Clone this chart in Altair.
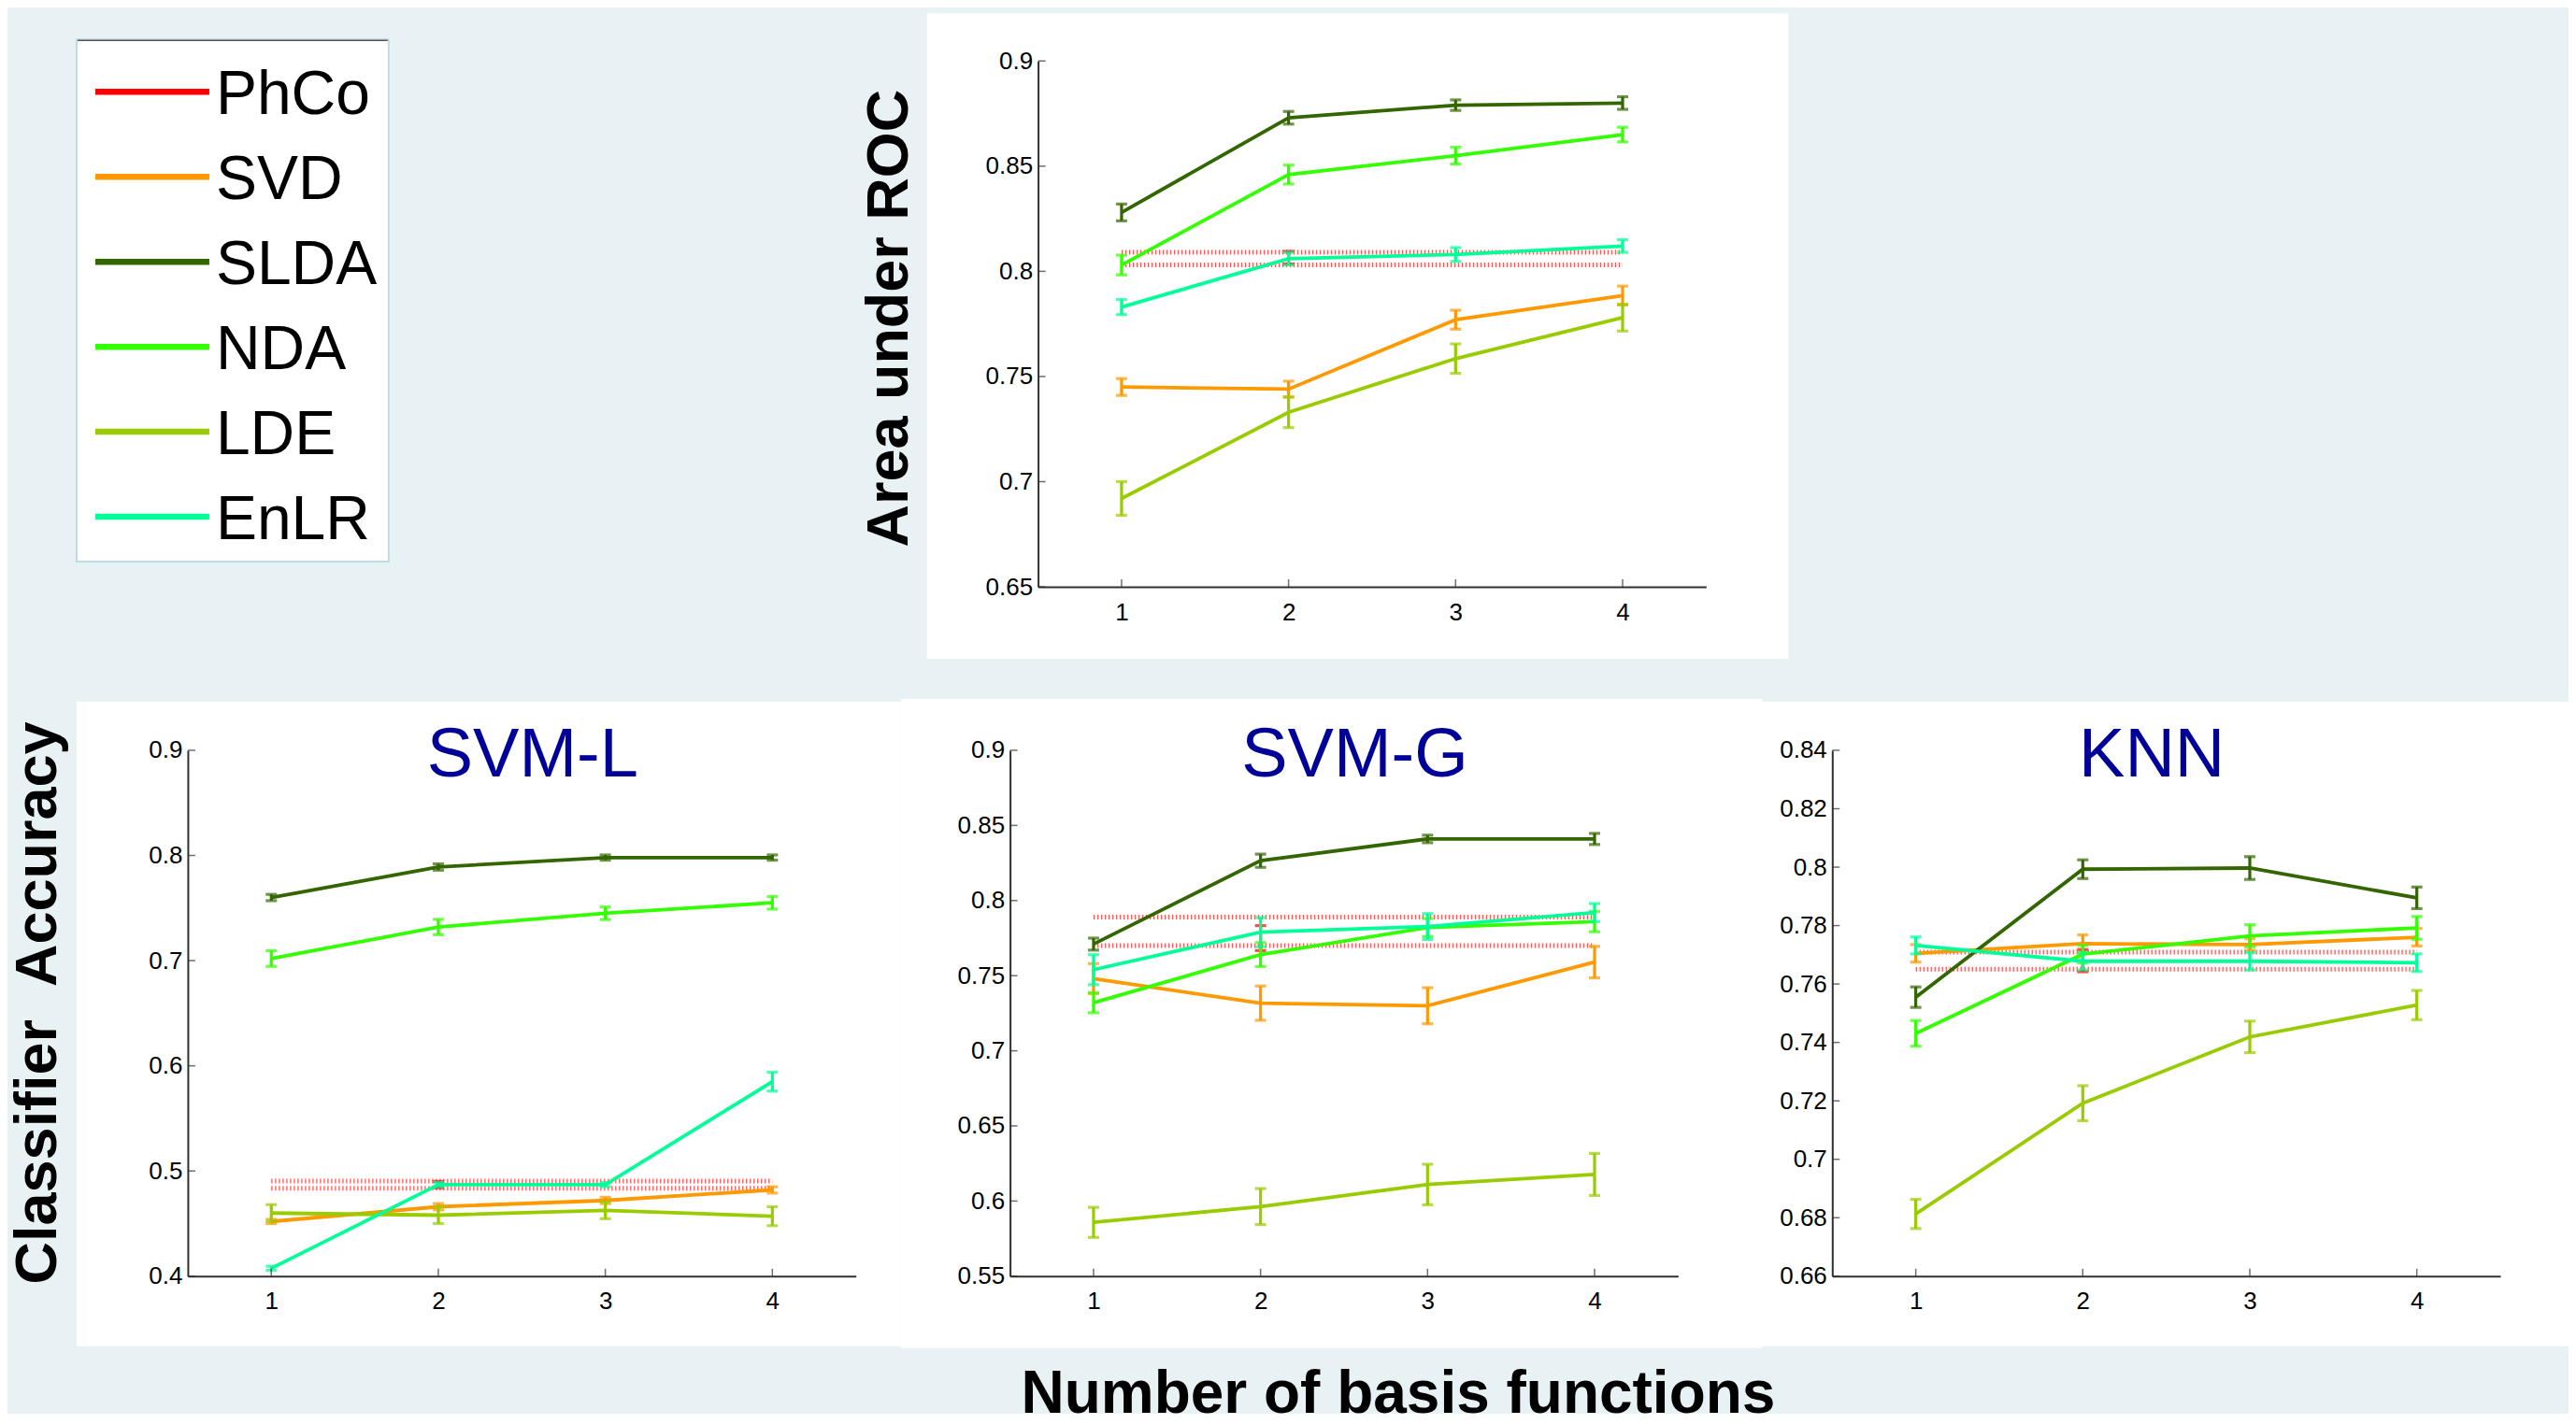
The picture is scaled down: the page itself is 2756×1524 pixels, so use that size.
import altair as alt
import pandas as pd

FONT = "Liberation Sans"
BG = "#e8f1f3"
AXIS_COLOR = "#303030"
TITLE_BLUE = "#000099"

METHODS = ["PhCo", "SVD", "SLDA", "NDA", "LDE", "EnLR"]
COLORS = ["#ff0000", "#ff9900", "#336600", "#33ff00", "#99cc00", "#00ff99"]
N_BASIS = [1, 2, 3, 4]

# ---------------- Area under ROC (top panel) ----------------
AUC_MEAN = {
    "SVD":  [0.745, 0.744, 0.777, 0.7885],
    "SLDA": [0.828, 0.873, 0.879, 0.880],
    "NDA":  [0.803, 0.846, 0.855, 0.865],
    "LDE":  [0.692, 0.733, 0.7585, 0.778],
    "EnLR": [0.783, 0.806, 0.808, 0.812],
}
AUC_ERR = {
    "SVD":  [0.004, 0.0038, 0.0045, 0.0045],
    "SLDA": [0.004, 0.003, 0.0025, 0.003],
    "NDA":  [0.0047, 0.0045, 0.004, 0.0035],
    "LDE":  [0.008, 0.0073, 0.007, 0.0064],
    "EnLR": [0.0036, 0.003, 0.0033, 0.003],
}
AUC_PHCO_BAND = [0.803, 0.809]
AUC_PHCO_BAR = [0.8065, 0.003]
AUC_TICKS = [0.65, 0.7, 0.75, 0.8, 0.85, 0.9]

# ---------------- SVM-L ----------------
SVML_MEAN = {
    "SVD":  [0.452, 0.466, 0.472, 0.482],
    "SLDA": [0.760, 0.789, 0.798, 0.798],
    "NDA":  [0.702, 0.732, 0.745, 0.755],
    "LDE":  [0.460, 0.458, 0.4626, 0.457],
    "EnLR": [0.4075, 0.487, 0.487, 0.585],
}
SVML_ERR = {
    "SVD":  [0.002, 0.003, 0.003, 0.003],
    "SLDA": [0.003, 0.003, 0.0025, 0.0025],
    "NDA":  [0.0075, 0.0073, 0.006, 0.006],
    "LDE":  [0.008, 0.008, 0.008, 0.009],
    "EnLR": [0.002, 0.002, 0.002, 0.009],
}
SVML_PHCO_BAND = [0.4835, 0.4905]
SVML_PHCO_BAR = [0.487, 0.003]
SVML_TICKS = [0.4, 0.5, 0.6, 0.7, 0.8, 0.9]

# ---------------- SVM-G ----------------
SVMG_MEAN = {
    "SVD":  [0.748, 0.7317, 0.730, 0.759],
    "SLDA": [0.771, 0.8265, 0.841, 0.841],
    "NDA":  [0.732, 0.764, 0.782, 0.786],
    "LDE":  [0.5858, 0.5963, 0.611, 0.6177],
    "EnLR": [0.754, 0.779, 0.7827, 0.792],
}
SVMG_ERR = {
    "SVD":  [0.010, 0.0114, 0.012, 0.0105],
    "SLDA": [0.004, 0.0044, 0.0025, 0.0037],
    "NDA":  [0.0067, 0.008, 0.006, 0.0068],
    "LDE":  [0.010, 0.012, 0.0135, 0.014],
    "EnLR": [0.010, 0.0097, 0.0086, 0.006],
}
SVMG_PHCO_BAND = [0.770, 0.789]
SVMG_PHCO_BAR = [0.775, 0.0083]
SVMG_TICKS = [0.55, 0.6, 0.65, 0.7, 0.75, 0.8, 0.85, 0.9]

# ---------------- KNN ----------------
KNN_MEAN = {
    "SVD":  [0.7705, 0.7738, 0.7735, 0.776],
    "SLDA": [0.7555, 0.7993, 0.7997, 0.7895],
    "NDA":  [0.7431, 0.7702, 0.7765, 0.7792],
    "LDE":  [0.6813, 0.7192, 0.7419, 0.7528],
    "EnLR": [0.7732, 0.7678, 0.7678, 0.7673],
}
KNN_ERR = {
    "SVD":  [0.003, 0.003, 0.002, 0.003],
    "SLDA": [0.0035, 0.0032, 0.0039, 0.0037],
    "NDA":  [0.0044, 0.003, 0.0038, 0.0039],
    "LDE":  [0.005, 0.006, 0.0054, 0.005],
    "EnLR": [0.0029, 0.003, 0.003, 0.003],
}
KNN_PHCO_BAND = [0.7651, 0.7709]
KNN_PHCO_BAR = [0.768, 0.0038]
KNN_TICKS = [0.66, 0.68, 0.70, 0.72, 0.74, 0.76, 0.78, 0.80, 0.82, 0.84]

PANEL_W = 715
PANEL_H = 563
ONE = pd.DataFrame({"k": [0]})


def rect_layer(x1, x2, y1, y2, fill="white", stroke=None, opacity=1.0):
    kw = dict(fill=fill, opacity=opacity)
    if stroke:
        kw.update(stroke=stroke, strokeWidth=2)
    return alt.Chart(ONE).mark_rect(**kw).encode(
        x=alt.value(x1), x2=alt.value(x2), y=alt.value(y1), y2=alt.value(y2)
    )


def panel(mean, err, band, bar, yticks, box, title=None, title_x=0,
          ytitle=None, ytitle_xy=(0, 0), xtitle=None, xtitle_xy=(0, 0),
          anchors=()):
    xs = alt.Scale(domain=[0.5, 4.5], nice=False, zero=False)
    ys = alt.Scale(domain=[yticks[0], yticks[-1]], nice=False, zero=False)

    xaxis_kw = dict(values=N_BASIS, format="d", ticks=False, tickSize=0, grid=False,
                    domainColor=AXIS_COLOR, domainWidth=2, labelFont=FONT,
                    labelFontSize=26, labelColor="black", labelPadding=14,
                    labelAngle=0, labelOverlap=False, labelFlush=False, zindex=1)
    if xtitle:
        xaxis_kw.update(title=xtitle, titleFont=FONT, titleFontSize=64,
                        titleFontWeight="bold", titleColor="black",
                        titleX=xtitle_xy[0], titleY=xtitle_xy[1],
                        titleAlign="center", titleBaseline="alphabetic", titleAngle=0)
    else:
        xaxis_kw["title"] = None
    yaxis_kw = dict(values=yticks, format="~g", ticks=False, tickSize=0, grid=False,
                    domainColor=AXIS_COLOR, domainWidth=2, labelFont=FONT,
                    labelFontSize=26, labelColor="black", labelPadding=6,
                    labelOverlap=False, labelFlush=False, zindex=1)
    if ytitle:
        yaxis_kw.update(title=ytitle, titleFont=FONT, titleFontSize=63,
                        titleFontWeight="bold", titleColor="black",
                        titleX=ytitle_xy[0], titleY=ytitle_xy[1],
                        titleAlign="center", titleBaseline="alphabetic", titleAngle=270)
    else:
        yaxis_kw["title"] = None
    xaxis = alt.Axis(**xaxis_kw)
    yaxis = alt.Axis(**yaxis_kw)

    def X(f="x"):
        return alt.X(f"{f}:Q", scale=xs, axis=xaxis)

    def Y(f="y"):
        return alt.Y(f"{f}:Q", scale=ys, axis=yaxis)

    layers = [rect_layer(*box)]
    for a in anchors:
        layers.append(rect_layer(*a, fill=BG, opacity=0))

    # PhCo: dotted band lines and its error bar
    band_df = pd.DataFrame({"x": [1, 1], "x2": [4, 4], "y": band})
    layers.append(alt.Chart(band_df).mark_rule(color="#ff2020", strokeWidth=5,
                                               strokeDash=[1.3, 2.7], opacity=0.75)
                  .encode(x=X(), x2="x2:Q", y=Y()))
    pm, pe = bar
    pbar = pd.DataFrame({"x": [2], "lo": [pm - pe], "hi": [pm + pe]})
    pcap = pd.DataFrame({"x": [2, 2], "y": [pm - pe, pm + pe]})
    layers.append(alt.Chart(pbar).mark_rule(color=COLORS[0], strokeWidth=3.2)
                  .encode(x=X(), y=Y("lo"), y2="hi:Q"))
    layers.append(alt.Chart(pcap).mark_tick(color=COLORS[0], orient="horizontal",
                                            size=12, thickness=3.2)
                  .encode(x=X(), y=Y()))

    for name, color in zip(METHODS[1:], COLORS[1:]):
        m = mean[name]
        e = err[name]
        lo = [a - b for a, b in zip(m, e)]
        hi = [a + b for a, b in zip(m, e)]
        df = pd.DataFrame({"x": N_BASIS, "y": m, "lo": lo, "hi": hi})
        caps = pd.DataFrame({"x": N_BASIS + N_BASIS, "y": lo + hi})
        layers.append(alt.Chart(df).mark_rule(color=color, strokeWidth=3.2)
                      .encode(x=X(), y=Y("lo"), y2="hi:Q"))
        layers.append(alt.Chart(caps).mark_tick(color=color, orient="horizontal",
                                                size=12, thickness=3.2)
                      .encode(x=X(), y=Y()))
        layers.append(alt.Chart(df).mark_line(color=color, strokeWidth=3.8)
                      .encode(x=X(), y=Y()))

    # inward ticks (MATLAB style)
    xt = pd.DataFrame({"x": N_BASIS, "y": [yticks[0]] * len(N_BASIS)})
    yt = pd.DataFrame({"x": [0.5] * len(yticks), "y": yticks})
    layers.append(alt.Chart(xt).mark_tick(color=AXIS_COLOR, orient="vertical", size=8,
                                          thickness=1.5, yOffset=-4)
                  .encode(x=X(), y=Y()))
    layers.append(alt.Chart(yt).mark_tick(color=AXIS_COLOR, orient="horizontal", size=8,
                                          thickness=1.5, xOffset=4)
                  .encode(x=X(), y=Y()))

    if title:
        layers.append(alt.Chart(ONE).mark_text(text=title, font=FONT, fontSize=74,
                                               color=TITLE_BLUE, align="center",
                                               baseline="alphabetic")
                      .encode(x=alt.value(title_x), y=alt.value(28)))

    return alt.layer(*layers).properties(width=PANEL_W, height=PANEL_H)


# ---------------- legend panel ----------------
leg_df = pd.DataFrame({"name": METHODS, "pos": list(range(len(METHODS)))})
leg_y = alt.Y("pos:Q", scale=alt.Scale(domain=[0, len(METHODS) - 1], range=[33, 488]),
              axis=None)
legend = alt.layer(
    rect_layer(-119, 215, -23, 536, fill="white", stroke="#bcdde5"),
    alt.Chart(ONE).mark_rule(color="#555555", strokeWidth=1.5).encode(
        x=alt.value(-118), x2=alt.value(214), y=alt.value(-22)
    ),
    rect_layer(-193, -192, -57, -56, fill=BG, opacity=0),
    alt.Chart(leg_df).mark_rule(strokeWidth=6.5).encode(
        x=alt.value(-99), x2=alt.value(23), y=leg_y,
        color=alt.Color("name:N", scale=alt.Scale(domain=METHODS, range=COLORS), legend=None),
    ),
    alt.Chart(leg_df).mark_text(font=FONT, fontSize=66, align="left", baseline="middle",
                                dy=4, color="black").encode(
        x=alt.value(30), y=leg_y, text="name:N"
    ),
).properties(width=215, height=PANEL_H)

top = panel(AUC_MEAN, AUC_ERR, AUC_PHCO_BAND, AUC_PHCO_BAR, AUC_TICKS,
            box=(-119, 803, -51, 640),
            ytitle="Area under ROC", ytitle_xy=(-140, 275))

svml = panel(SVML_MEAN, SVML_ERR, SVML_PHCO_BAND, SVML_PHCO_BAR, SVML_TICKS,
             box=(-119, 763, -52, 638), title="SVM-L", title_x=369,
             ytitle="Classifier\u00a0\u00a0Accuracy", ytitle_xy=(-141, 270),
             anchors=[(-193, -192, 0, 1)])

svmg = panel(SVMG_MEAN, SVMG_ERR, SVMG_PHCO_BAND, SVMG_PHCO_BAR, SVMG_TICKS,
             box=(-117, 805, -55, 640), title="SVM-G", title_x=369,
             xtitle="Number of basis functions", xtitle_xy=(415, 146))

knn = panel(KNN_MEAN, KNN_ERR, KNN_PHCO_BAND, KNN_PHCO_BAR, KNN_TICKS,
            box=(-75, 788, -52, 638), title="KNN", title_x=342)

top_row = alt.hconcat(legend, top, spacing=695, bounds="flush")
bottom_row = alt.hconcat(svml, svmg, knn, spacing=165, bounds="flush")

chart = alt.vconcat(
    top_row, bottom_row, spacing=43, bounds="full",
    padding={"left": 0, "top": 0, "right": 0, "bottom": -12},
).configure(background=BG).configure_view(strokeWidth=0)

chart.save("out.html", embed_options={"renderer": "svg", "actions": False})
